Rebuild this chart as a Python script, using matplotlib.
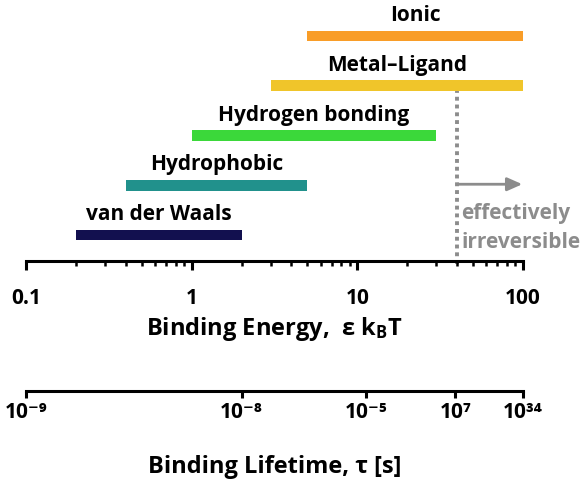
import matplotlib
matplotlib.use("Agg")
import matplotlib.pyplot as plt
import numpy as np

plt.rcParams["font.family"] = ["Open Sans", "DejaVu Sans"]
plt.rcParams["mathtext.fontset"] = "custom"
plt.rcParams["mathtext.rm"] = "Open Sans:bold"
plt.rcParams["mathtext.it"] = "Open Sans:bold"
plt.rcParams["mathtext.bf"] = "Open Sans:bold"

# Binding energy ranges (units of kBT)
interactions = ["van der Waals", "Hydrophobic", "Hydrogen bonding", "Metal–Ligand", "Ionic"]
energy_low = [0.2, 0.4, 1.0, 3.0, 5.0]
energy_high = [2.0, 5.0, 30.0, 100.0, 100.0]
bar_colors = ["#12104f", "#21918c", "#3bd83a", "#f0c52a", "#f99d28"]

# irreversible threshold
threshold = 40

# lifetime axis: position on the energy axis and label
lifetime_pos = [0.1, 2.0, 11.3, 39, 100]
lifetime_labels = ["10⁻⁹", "10⁻⁸", "10⁻⁵", "10⁷", "10³⁴"]

W, H = 583, 479
fig = plt.figure(figsize=(W / 100, H / 100), dpi=100)

left = 26 / W
width = (523 - 26) / W
ax = fig.add_axes([left, (H - 261) / H, width, 256 / H])

y = np.arange(len(interactions))
for i in range(len(interactions)):
    ax.barh(y[i], energy_high[i] - energy_low[i], left=energy_low[i], height=0.22,
            color=bar_colors[i])
    mid = np.sqrt(energy_low[i] * energy_high[i])
    ax.text(mid, y[i] + 0.2, interactions[i], ha="center", va="bottom",
            fontsize=15, fontweight="bold")

ax.set_xscale("log")
ax.set_xlim(0.1, 100)
ax.set_ylim(-0.523, 4.623)

# threshold line + arrow
ax.plot([threshold, threshold], [-0.58, 3 - 0.11], color="#8c8c8c", lw=2.8,
        linestyle=(0, (1, 1)), solid_capstyle="butt", clip_on=False, zorder=1)
ax.annotate("", xy=(99, 1.02), xytext=(threshold, 1.02),
            arrowprops=dict(arrowstyle="-|>,head_length=0.9,head_width=0.4",
                            color="#8c8c8c", lw=2, shrinkA=0, shrinkB=0))
ax.text(threshold * 1.06, 0.44, "effectively", ha="left", va="center",
        fontsize=15, fontweight="bold", color="#8c8c8c")
ax.text(threshold * 1.06, -0.16, "irreversible", ha="left", va="center",
        fontsize=15, fontweight="bold", color="#8c8c8c")

for s in ["top", "right", "left"]:
    ax.spines[s].set_visible(False)
ax.spines["bottom"].set_linewidth(2.2)
ax.set_yticks([])
ax.set_xticks([0.1, 1, 10, 100])
ax.set_xticklabels(["0.1", "1", "10", "100"])
ax.tick_params(axis="x", which="major", length=6.5, width=2.2, pad=13, labelsize=15)
ax.tick_params(axis="x", which="minor", length=3.5, width=1.8)
for lab in ax.get_xticklabels():
    lab.set_fontweight("bold")
ax.set_xlabel(r"Binding Energy,  ε k$_\mathregular{B}$T", fontsize=17,
              fontweight="bold", labelpad=4)

# lifetime axis
ax2 = fig.add_axes([left, (H - 391) / H, width, 0.0001])
ax2.set_xscale("log")
ax2.set_xlim(0.1, 100)
for s in ["top", "right", "left"]:
    ax2.spines[s].set_visible(False)
ax2.spines["bottom"].set_linewidth(2.2)
ax2.set_yticks([])
ax2.set_xticks(lifetime_pos)
ax2.set_xticklabels(lifetime_labels)
ax2.xaxis.set_minor_locator(matplotlib.ticker.NullLocator())
ax2.tick_params(axis="x", which="major", length=5, width=2.2, pad=3, labelsize=15)
for lab in ax2.get_xticklabels():
    lab.set_fontweight("bold")
ax2.set_xlabel("Binding Lifetime, τ [s]", fontsize=17, fontweight="bold", labelpad=23)

fig.savefig("out.png", dpi=100)
